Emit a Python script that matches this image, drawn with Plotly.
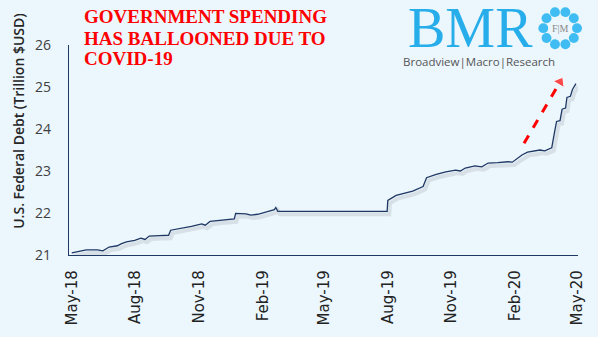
import plotly.graph_objects as go
import pandas as pd
import math

# ---- data ----
dates = [
    "2018-05-01", "2018-05-12", "2018-05-22", "2018-06-07", "2018-06-15", "2018-06-24",
    "2018-07-06", "2018-07-12", "2018-07-19", "2018-07-31", "2018-08-09", "2018-08-15",
    "2018-08-21", "2018-09-05", "2018-09-18", "2018-09-21", "2018-10-01", "2018-10-09",
    "2018-10-21", "2018-11-05", "2018-11-10", "2018-11-17", "2018-12-01", "2018-12-09",
    "2018-12-22", "2018-12-24", "2019-01-08", "2019-01-15", "2019-01-25", "2019-02-08",
    "2019-02-18", "2019-02-20", "2019-02-23", "2019-07-31", "2019-08-01", "2019-08-13",
    "2019-08-23", "2019-09-06", "2019-09-21", "2019-09-26", "2019-10-10", "2019-10-17",
    "2019-10-24", "2019-11-07", "2019-11-14", "2019-11-21", "2019-12-05", "2019-12-15",
    "2019-12-24", "2020-01-07", "2020-01-22", "2020-01-28", "2020-02-05", "2020-02-11",
    "2020-02-19", "2020-03-01", "2020-03-08", "2020-03-15", "2020-03-25", "2020-03-29",
    "2020-04-01", "2020-04-06", "2020-04-09", "2020-04-14", "2020-04-16", "2020-04-21",
    "2020-04-24", "2020-04-29",
]
debt = [
    21.05, 21.08, 21.12, 21.12, 21.10, 21.19,
    21.22, 21.27, 21.31, 21.35, 21.40, 21.37,
    21.45, 21.46, 21.47, 21.59, 21.62, 21.64,
    21.68, 21.74, 21.71, 21.80, 21.83, 21.85,
    21.86, 21.99, 21.98, 21.95, 21.97, 22.03,
    22.08, 22.13, 22.04, 22.04, 22.30, 22.42,
    22.46, 22.52, 22.63, 22.84, 22.92, 22.95,
    22.98, 23.02, 23.00, 23.07, 23.12, 23.10,
    23.19, 23.20, 23.22, 23.21, 23.31, 23.38,
    23.45, 23.47, 23.50, 23.48, 23.55, 23.92,
    24.18, 24.20, 24.47, 24.50, 24.75, 24.78,
    24.94, 25.08,
]
tick_dates = ["2018-05-01", "2018-08-01", "2018-11-01", "2019-02-01", "2019-05-01",
              "2019-08-01", "2019-11-01", "2020-02-01", "2020-05-01"]
tick_text = ["May-18", "Aug-18", "Nov-18", "Feb-19", "May-19",
             "Aug-19", "Nov-19", "Feb-20", "May-20"]
arrow_x = ["2020-02-14", "2020-04-06"]
arrow_y = [23.66, 25.12]

title_lines = ["GOVERNMENT SPENDING", "HAS BALLOONED DUE TO", "COVID-19"]

BG = "#EBF6FD"
NAVY = "#1F3864"

W, H = 598, 337
ML, MR, MT, MB = 69, 15, 45, 80
PW, PH = W - ML - MR, H - MT - MB


def P(x, y):
    return (x - ML) / PW, (H - MB - y) / PH


fig = go.Figure()

# soft shadow under the line
sh_x = [str((pd.Timestamp(d) + pd.Timedelta(days=3)).date()) for d in dates]
sh_y = [v - 0.07 for v in debt]
fig.add_trace(go.Scatter(x=sh_x, y=sh_y, mode="lines",
                         line=dict(color="rgba(90,90,90,0.14)", width=4),
                         hoverinfo="skip", showlegend=False))
fig.add_trace(go.Scatter(x=dates, y=debt, mode="lines",
                         line=dict(color=NAVY, width=1.3),
                         showlegend=False))
# red dashed arrow
fig.add_trace(go.Scatter(x=arrow_x, y=arrow_y, mode="lines+markers",
                         line=dict(color="#FF0000", width=3, dash="dash"),
                         marker=dict(symbol=["circle", "triangle-up"], size=[0, 11],
                                     angleref="previous", color="#FF0000"),
                         showlegend=False, hoverinfo="skip"))

fig.update_layout(
    width=W, height=H,
    margin=dict(l=ML, r=MR, t=MT, b=MB),
    paper_bgcolor=BG, plot_bgcolor=BG,
    xaxis=dict(type="date", range=["2018-04-27", "2020-05-02"],
               tickvals=tick_dates, ticktext=tick_text, tickangle=-90,
               showgrid=False, zeroline=False, showline=True,
               linecolor=NAVY, linewidth=1.3, ticks="",
               ticklabelstandoff=8,
               tickfont=dict(family="DejaVu Sans", size=15, color="#222222")),
    yaxis=dict(range=[21, 26], tickvals=[21, 22, 23, 24, 25, 26],
               showgrid=False, zeroline=False, showline=True,
               linecolor=NAVY, linewidth=1.3, ticks="",
               ticklabelstandoff=14,
               tickfont=dict(family="Open Sans", size=14, color="#404040")),
)

ann = []
# title lines
for txt, cy in zip(title_lines, [16, 38, 59]):
    x, y = P(82, cy)
    ann.append(dict(x=x, y=y, xref="paper", yref="paper", text=txt, showarrow=False,
                    xanchor="left", yanchor="middle",
                    font=dict(family="Liberation Serif", size=19, color="#FF0000", weight="bold")))
# y-axis title
x, y = P(18, 121)
ann.append(dict(x=x, y=y, xref="paper", yref="paper", text="U.S. Federal Debt (Trillion $USD)",
                showarrow=False, textangle=-90, xanchor="center", yanchor="middle",
                font=dict(family="Open Sans", size=14, color="#262626", weight=600)))
# logo text
x, y = P(474, 28)
ann.append(dict(x=x, y=y, xref="paper", yref="paper", text="BMR", showarrow=False,
                xanchor="center", yanchor="middle",
                font=dict(family="Liberation Serif", size=56, color="#27AEEA")))
x, y = P(483, 62)
ann.append(dict(x=x, y=y, xref="paper", yref="paper", text="Broadview|Macro|Research",
                showarrow=False, xanchor="center", yanchor="middle",
                font=dict(family="Open Sans", size=11.5, color="#555555")))
x, y = P(565, 28)
ann.append(dict(x=x, y=y, xref="paper", yref="paper", text="F|M", showarrow=False,
                xanchor="center", yanchor="middle",
                font=dict(family="Liberation Serif", size=10, color="#8A8A8A")))
fig.update_layout(annotations=ann)

# logo ring of figures
shapes = []
cx, cy = 565, 28
for k in range(10):
    a = 2 * math.pi * k / 10
    px, py = cx + 17 * math.cos(a), cy + 17 * math.sin(a)
    x0, y0 = P(px - 5, py - 5)
    x1, y1 = P(px + 5, py + 5)
    shapes.append(dict(type="circle", xref="paper", yref="paper", x0=x0, y0=y0, x1=x1, y1=y1,
                       line=dict(width=0), fillcolor="#3FBDF2", layer="above"))
x0, y0 = P(cx - 12, cy - 12)
x1, y1 = P(cx + 12, cy + 12)
shapes.append(dict(type="circle", xref="paper", yref="paper", x0=x0, y0=y0, x1=x1, y1=y1,
                   line=dict(width=0), fillcolor=BG, layer="above"))
fig.update_layout(shapes=shapes)

fig.write_html("out.html")
